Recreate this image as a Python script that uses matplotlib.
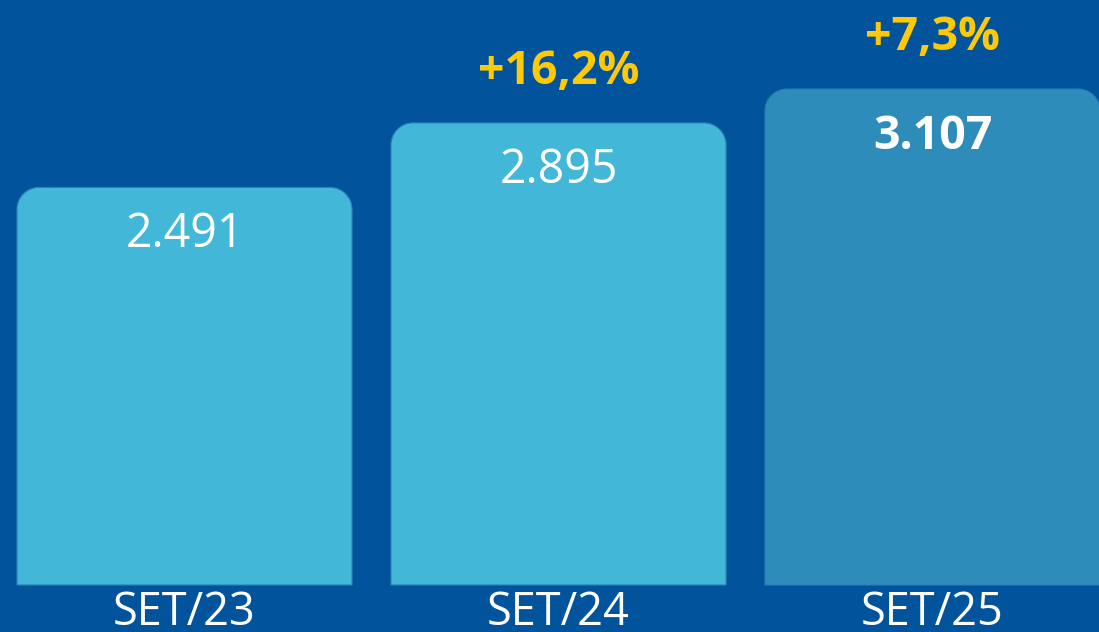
import matplotlib.pyplot as plt
import numpy as np
from matplotlib.path import Path
from matplotlib.patches import PathPatch

# Data
periods = ['SET/23', 'SET/24', 'SET/25']
values = [2491, 2895, 3107]
value_labels = ['2.491', '2.895', '3.107']
growth_labels = ['', '+16,2%', '+7,3%']

bg = '#01539C'
bar_colors = ['#42B7D7', '#42B7D7', '#2E8CBB']
yellow = '#FFC907'

plt.rcParams['font.family'] = ['Open Sans', 'DejaVu Sans']

W, H = 1099, 632
fig = plt.figure(figsize=(W / 100, H / 100), dpi=100, facecolor=bg)
ax = fig.add_axes([0, 0, 1, 1])
ax.set_facecolor(bg)
ax.axis('off')

# limits chosen so the bars land where they do in the picture
ax.set_xlim(-0.4933, 2.445)
ax.set_ylim(-294.5, 3665)

x = np.arange(len(values))
bars = ax.bar(x, values, width=0.896, color=bar_colors)

# pixels per data unit, for the corner radius
px_x = W / (ax.get_xlim()[1] - ax.get_xlim()[0])
px_y = H / (ax.get_ylim()[1] - ax.get_ylim()[0])
r = 22
rx, ry = r / px_x, r / px_y
k = 0.5523

for b, c in zip(bars, bar_colors):
    x0, w, h = b.get_x(), b.get_width(), b.get_height()
    x1 = x0 + w
    verts = [(x0, 0), (x0, h - ry),
             (x0, h - ry + k * ry), (x0 + rx - k * rx, h), (x0 + rx, h),
             (x1 - rx, h),
             (x1 - rx + k * rx, h), (x1, h - ry + k * ry), (x1, h - ry),
             (x1, 0), (x0, 0)]
    codes = [Path.MOVETO, Path.LINETO,
             Path.CURVE4, Path.CURVE4, Path.CURVE4,
             Path.LINETO,
             Path.CURVE4, Path.CURVE4, Path.CURVE4,
             Path.LINETO, Path.CLOSEPOLY]
    b.set_visible(False)
    ax.add_patch(PathPatch(Path(verts, codes), facecolor=c,
                           edgecolor='#2A7FB5', lw=0.8))

for i, (v, lab, g) in enumerate(zip(values, value_labels, growth_labels)):
    weight = 'bold' if i == len(values) - 1 else 'normal'
    ax.annotate(lab, (x[i], v), xytext=(0, -43), textcoords='offset points',
                ha='center', va='baseline', color='white', fontsize=33.5,
                fontweight=weight)
    if g:
        ax.annotate(g, (x[i], v), xytext=(0, 28), textcoords='offset points',
                    ha='center', va='baseline', color=yellow, fontsize=33.5,
                    fontweight='bold')
    ax.annotate(periods[i], (x[i], 0), xytext=(0, -28.5), textcoords='offset points',
                ha='center', va='baseline', color='white', fontsize=32.5)

fig.savefig('out.png', dpi=100, facecolor=bg)
